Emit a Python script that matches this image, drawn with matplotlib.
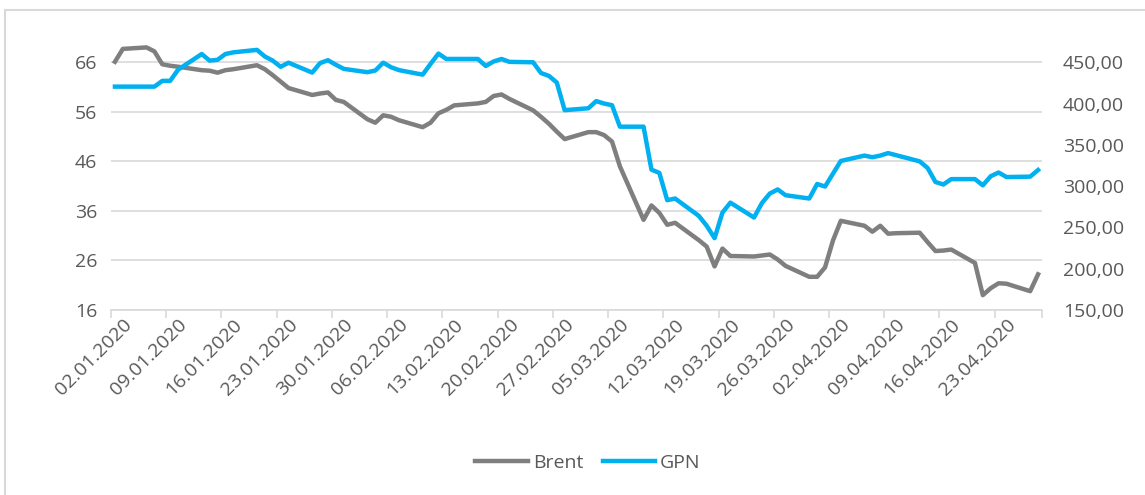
import matplotlib
matplotlib.use("Agg")
import matplotlib.pyplot as plt
import matplotlib.dates as mdates
from matplotlib.patches import Rectangle
from matplotlib.ticker import FixedLocator, FuncFormatter, NullFormatter
import pandas as pd

plt.rcParams['font.family'] = ['Open Sans', 'DejaVu Sans']

# trading days shown on the chart
dates = pd.bdate_range("2020-01-02", "2020-04-28")

# Brent, USD/bbl (left axis), read month by month
brent_jan = [66.1, 68.7, 69.0, 68.2, 65.6, 65.3, 65.1, 64.4, 64.3, 63.9, 64.4,
             64.6, 65.4, 64.6, 63.4, 62.1, 60.8, 59.4, 59.7, 59.9, 58.4, 58.0]
brent_feb = [54.5, 53.8, 55.3, 55.0, 54.3, 52.9, 53.8, 55.7, 56.4, 57.3,
             57.7, 58.0, 59.2, 59.5, 58.6, 56.3, 55.0, 53.6, 52.0, 50.5]
brent_mar = [51.9, 51.9, 51.3, 50.0, 45.0, 34.2, 37.1, 35.6, 33.2, 33.6, 30.1,
             28.8, 24.8, 28.4, 26.9, 26.8, 27.0, 27.2, 26.2, 24.9, 22.7, 22.7]
brent_apr = [24.6, 30.0, 34.0, 33.0, 31.8, 33.0, 31.4, 31.5, 31.6, 29.7,
             27.9, 28.0, 28.2, 25.5, 19.0, 20.4, 21.4, 21.3, 19.8, 23.2]

# GPN share price, RUB (right axis)
gpn_jan = [420.5, 420.5, 420.5, 420.5, 427.5, 427.5, 441.0, 460.0, 452.0, 453.0, 460.0,
           462.0, 465.0, 457.0, 452.0, 444.5, 449.5, 437.5, 449.0, 452.5, 447.0, 442.0]
gpn_feb = [438.0, 440.0, 449.5, 444.0, 440.5, 435.0, 448.0, 460.5, 454.0, 454.0,
           454.0, 445.5, 451.0, 454.0, 450.5, 450.0, 437.0, 433.5, 425.5, 392.0]
gpn_mar = [394.3, 403.0, 400.0, 398.0, 372.0, 372.0, 320.0, 316.0, 283.0, 285.0, 264.0,
           252.0, 237.0, 268.0, 280.0, 262.0, 279.5, 291.0, 296.0, 289.0, 285.0, 302.6]
gpn_apr = [299.5, 315.0, 330.5, 337.0, 335.0, 337.0, 340.0, 337.5, 330.0, 322.0,
           305.0, 302.0, 308.5, 308.5, 301.0, 312.0, 316.5, 311.0, 311.5, 319.5]

brent = brent_jan + brent_feb + brent_mar + brent_apr
gpn = gpn_jan + gpn_feb + gpn_mar + gpn_apr

week_labels = pd.date_range("2020-01-02", "2020-04-23", freq="7D")
left_ticks = [16, 26, 36, 46, 56, 66]
right_ticks = [150, 200, 250, 300, 350, 400, 450]

GREY = "#7f7f7f"
BLUE = "#00b0f0"
GRID = "#d9d9d9"
TEXT = "#595959"
W, H = 1145, 495
FS = 14

fig = plt.figure(figsize=(W / 100, H / 100), dpi=100)
fig.patches.append(Rectangle((5 / W, -0.1), 1.2, (H - 10) / H + 0.1, transform=fig.transFigure,
                             fill=False, edgecolor=GRID, lw=1.5))

ax = fig.add_axes([111 / W, (H - 310) / H, (1042 - 111) / W, (310 - 37.5) / H])
ax2 = ax.twinx()

l1, = ax.plot(dates, brent, color=GREY, lw=3.2, solid_joinstyle="round", label="Brent")
l2, = ax2.plot(dates, gpn, color=BLUE, lw=3.2, solid_joinstyle="round", label="GPN")

x0 = mdates.date2num(dates[0]) - 0.5
x1 = mdates.date2num(dates[-1]) + 0.5
ax.set_xlim(x0, x1)
ax.set_ylim(16, 71)
ax2.set_ylim(150, 480)

ax.set_yticks(left_ticks)
ax2.set_yticks(right_ticks)
ax2.yaxis.set_major_formatter(FuncFormatter(lambda v, p: f"{v:.2f}".replace(".", ",")))
ax.yaxis.grid(True, color=GRID, lw=1.2)
ax.set_axisbelow(True)

# tick marks sit on day boundaries; labels are hung a day to the right, as in Excel
wk = mdates.date2num(week_labels)
ax.xaxis.set_major_locator(FixedLocator(list(wk - 0.5) + [x1]))
ax.xaxis.set_major_formatter(NullFormatter())
ax.xaxis.set_minor_locator(FixedLocator(wk + 1.0))
ax.xaxis.set_minor_formatter(FuncFormatter(lambda v, p: mdates.num2date(v - 1.0).strftime("%d.%m.%Y")))
ax.tick_params(axis="x", which="major", length=6, color=GRID, width=1.2)
ax.tick_params(axis="x", which="minor", length=0, pad=4, labelsize=FS, labelcolor=TEXT)
for lab in ax.xaxis.get_minorticklabels():
    lab.set_rotation(45)
    lab.set_ha("right")
    lab.set_va("top")
    lab.set_rotation_mode("anchor")

ax.tick_params(axis="y", length=0, pad=10, labelsize=FS, labelcolor=TEXT)
ax2.tick_params(axis="y", length=0, pad=15, labelsize=FS, labelcolor=TEXT)

for a in (ax, ax2):
    for s in ("top", "left", "right", "bottom"):
        a.spines[s].set_visible(False)
ax.spines["bottom"].set_visible(True)
ax.spines["bottom"].set_color(GRID)
ax.spines["bottom"].set_linewidth(1.2)

fig.legend(handles=[l1, l2], loc="center", bbox_to_anchor=(588 / W, 1 - 463 / H),
           ncol=2, frameon=False, fontsize=FS, handlelength=2.7, handletextpad=0.25,
           columnspacing=1.0, labelcolor=TEXT)

fig.savefig("out.png", dpi=100, facecolor="white")
